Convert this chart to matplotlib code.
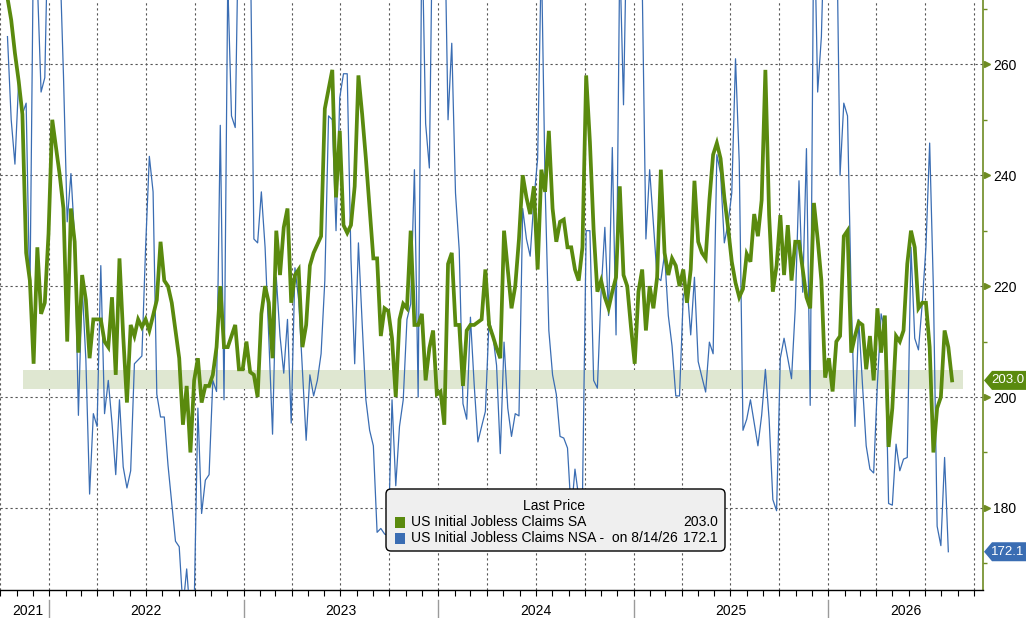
import pandas as pd
import matplotlib
matplotlib.use('Agg')
import matplotlib.pyplot as plt
import matplotlib.dates as mdates
from matplotlib.patches import Polygon, FancyBboxPatch, Rectangle
from matplotlib.transforms import IdentityTransform, ScaledTranslation, blended_transform_factory

# weekly initial jobless claims (thousands)
sa_claims = [
    272, 268, 262, 257, 251, 226, 221, 206, 227, 215, 217, 229.5, 250, 245, 240, 234,
    210, 234, 228, 208, 222, 217.5, 207, 214, 214, 214, 210, 209, 218, 204, 225, 211,
    199, 213, 211, 214, 212.6, 214, 212, 214.7, 217.5, 228, 221, 220, 217, 212, 207, 195,
    202, 190, 203, 207, 199, 202, 202, 204, 209, 220, 209, 209, 211, 213, 205, 205,
    210, 204.5, 204, 200, 215, 220, 217, 207, 230, 222, 230.6, 234, 217, 222, 223, 209,
    213, 223.7, 226, 227.5, 229, 252, 255.5, 259, 236, 248, 231, 229.6, 231, 238, 258, 251,
    243, 234, 225, 225, 211, 216, 215.5, 210.6, 200, 214, 216.8, 216, 230, 213, 213, 215,
    203, 208.8, 212, 200.5, 201, 195, 224, 226, 213, 213, 202, 212, 213, 213, 213.5, 214,
    223, 213, 211, 208.8, 207, 230, 223, 216, 220, 228.5, 240, 236, 233, 238, 223, 241,
    237, 248, 234, 228, 231.6, 232, 227, 227, 223, 221, 227, 258, 246, 230, 219, 221,
    218, 216, 219, 221.6, 238, 222, 220, 212.6, 206, 219, 223, 212, 220, 216, 221.6, 241,
    226, 222, 225, 223.7, 220, 223, 217, 223, 239, 228, 226, 225, 235.5, 243.7, 245.8, 243,
    236, 230.6, 224.4, 220.6, 218, 219.5, 225.8, 224.4, 233, 229, 235.5, 259, 232.8, 219, 223.7, 232.8,
    222, 231, 221, 228, 228, 223, 218, 216, 235, 228.5, 221, 203.5, 207, 201, 210, 211,
    229, 230, 208, 211, 213.5, 213, 205, 211, 203, 216, 208, 214.7, 191, 198, 211, 210,
    212, 224, 230, 227, 216, 217, 217, 209, 190, 198, 200, 212, 209, 203,
]

nsa_claims = [
    265, 250, 242, 257, 251, 253, 217, 285, 275, 255, 257.6, 290, 310, 300, 280, 258,
    231.6, 240.3, 228.5, 196.7, 220, 206.7, 182.5, 197, 194.7, 223.7, 197, 203, 195.3, 186, 199.5, 187.4,
    183.6, 186.7, 206, 206.7, 207.4, 227, 243.4, 237, 200.5, 196.4, 196.4, 187.7, 180.8, 174, 173, 162,
    169, 160, 162, 198, 179, 185, 186, 203, 201, 249, 199.5, 275, 250.7, 248.6, 290, 300,
    310, 285, 228.5, 227.8, 237, 227, 210.6, 193.3, 221.6, 211, 204.3, 214, 195.3, 223.3, 217.5, 205,
    192.2, 204, 200.2, 203, 207.8, 221, 250.7, 250, 230, 254, 258.3, 258.3, 225, 206, 227.8, 213.3,
    199.5, 194, 191.2, 175.6, 176.3, 175.3, 175, 199.5, 184, 194.7, 199.5, 214, 216.8, 241, 200, 285,
    249.3, 241.3, 295, 305, 300, 290, 250, 263.8, 236.8, 226.5, 198.8, 196, 214.4, 202.3, 191.9, 194.7,
    197.4, 214, 211.2, 205.7, 189.8, 209.9, 198, 192.9, 197, 196.6, 234, 228.5, 225.4, 235.5, 243, 280,
    238.2, 212, 204, 200.5, 192.9, 192.6, 190.8, 179, 187, 181.9, 181.5, 230, 230, 203, 201.6, 218.9,
    230.6, 214.7, 245, 211.2, 280, 252.7, 290, 300, 310, 295, 275, 228.5, 241, 231.3, 221.6, 221,
    225.8, 214.7, 209.2, 200.2, 200.2, 218.2, 220.2, 211.2, 221.6, 206.4, 203.6, 200.9, 209.9, 207.8, 243.7, 240.3,
    227.8, 231.3, 236.8, 261, 242.3, 194, 196, 199.5, 195.3, 191.2, 196.7, 205, 196, 181.5, 179.5, 207,
    210.6, 207, 203.3, 216, 239, 218.9, 244.8, 198.5, 290, 255, 265, 290, 300, 305, 290, 240,
    253, 250.7, 217.5, 194.7, 214, 202.3, 191.2, 187, 186.3, 202.3, 215, 212, 180.8, 180.5, 191.5, 186.7,
    188.8, 189.1, 227, 210.6, 208.5, 216.8, 227, 245.8, 219.5, 176.7, 173.2, 189.1, 172.1,
]

sa_dates = pd.date_range('2021-10-15', periods=len(sa_claims), freq='7D')
nsa_dates = sa_dates[:len(nsa_claims)]

years = [2021, 2022, 2023, 2024, 2025, 2026]
y_ticks = [180, 200, 220, 240, 260]
band = (201.4, 204.8)
band_span = (pd.Timestamp('2021-11-13'), pd.Timestamp('2026-09-10'))
x_range = (pd.Timestamp('2021-10-14'), pd.Timestamp('2026-10-18'))

GREEN = '#5a8a0e'
BLUE = '#3a6db3'
AXIS_GREEN = '#6e8b22'

plt.rcParams['font.family'] = ['Liberation Sans', 'DejaVu Sans']

fig = plt.figure(figsize=(10.26, 6.18), dpi=100)
ax = fig.add_axes([0, 28 / 618, 983 / 1026, 590 / 618])

ax.fill_between(band_span, band[0], band[1], color='#dfe7d1', lw=0, zorder=1)
ax.plot(nsa_dates, nsa_claims, color=BLUE, lw=0.9, zorder=3)
ax.plot(sa_dates, sa_claims, color=GREEN, lw=2.7, zorder=4, solid_joinstyle='miter')

ax.set_xlim(x_range)
ax.set_ylim(165.2, 271.6)

# grid
ax.set_yticks(y_ticks)
ax.set_yticks(range(170, 271, 20), minor=True)
ax.set_xticks(pd.date_range('2021-10-01', '2026-10-01', freq='QS'))
ax.xaxis.set_minor_locator(mdates.MonthLocator())
ax.grid(True, which='major', color='#555555', lw=0.8, ls=(0, (2, 2.5)))
ax.set_axisbelow(True)

ax.xaxis.set_major_formatter(plt.NullFormatter())
ax.tick_params(axis='x', which='both', direction='out', length=4, color='black', width=0.8)

ax.yaxis.tick_right()
ax.tick_params(axis='y', which='major', length=0, pad=7.5, labelsize=10)
ax.tick_params(axis='y', which='minor', length=3, color=AXIS_GREEN, width=1)

for side in ['top', 'left']:
    ax.spines[side].set_visible(False)
ax.spines['right'].set_color(AXIS_GREEN)
ax.spines['right'].set_linewidth(1.2)
ax.spines['bottom'].set_color('black')
ax.spines['bottom'].set_linewidth(1.0)

# small arrow marks on the right axis
arrow_tr = ax.get_yaxis_transform() + ScaledTranslation(3.5 / 100, 0, fig.dpi_scale_trans)
ax.plot([1] * len(y_ticks), y_ticks, ls='none', marker='>', ms=5, color=AXIS_GREEN,
        transform=arrow_tr, clip_on=False, zorder=5)

# year separators and labels
bt = blended_transform_factory(ax.transData, ax.transAxes)
left_num, right_num = mdates.date2num(x_range[0]), mdates.date2num(x_range[1])
for yr in years:
    start = max(mdates.date2num(pd.Timestamp(f'{yr}-01-01')), left_num)
    end = min(mdates.date2num(pd.Timestamp(f'{yr + 1}-01-01')), right_num)
    if yr > years[0]:
        ax.plot([start, start], [-0.017, -0.05], color='#9a9a9a', lw=1, transform=bt, clip_on=False)
    ax.text((start + end) / 2, -0.035, str(yr), transform=bt, ha='center', va='center', fontsize=10)

# last value tags
fig.canvas.draw()
ident = IdentityTransform()
for val, col in [(sa_claims[-1], GREEN), (nsa_claims[-1], BLUE)]:
    yc = ax.transData.transform((0, val))[1]
    pts = [(984, yc), (992, yc + 9.5), (1026, yc + 9.5), (1026, yc - 9.5), (992, yc - 9.5)]
    fig.add_artist(Polygon(pts, closed=True, facecolor=col, edgecolor='none', transform=ident))
    fig.text(1008, yc, f'{val:.1f}', color='white', fontsize=9.5, ha='center', va='center',
             transform=ident)

# legend box
inch = fig.dpi_scale_trans
fig.add_artist(FancyBboxPatch((3.86, 0.67), 3.39, 0.62, boxstyle='round,pad=0,rounding_size=0.05',
                              facecolor='#efefef', edgecolor='black', lw=1, transform=inch))
fig.text(5.54, 1.12, 'Last Price', transform=inch, ha='center', va='center', fontsize=10)
rows = [(0.96, GREEN, 'US Initial Jobless Claims SA', f'{sa_claims[-1]:.1f}'),
        (0.80, BLUE, 'US Initial Jobless Claims NSA -  on 8/14/26', f'{nsa_claims[-1]:.1f}')]
for yy, col, label, val in rows:
    fig.add_artist(Rectangle((3.95, yy - 0.055), 0.1, 0.11, facecolor=col, edgecolor='none', transform=inch))
    fig.text(4.11, yy, label, transform=inch, ha='left', va='center', fontsize=10)
    fig.text(7.18, yy, val, transform=inch, ha='right', va='center', fontsize=10)

fig.savefig('out.png', dpi=100)
plt.close(fig)
